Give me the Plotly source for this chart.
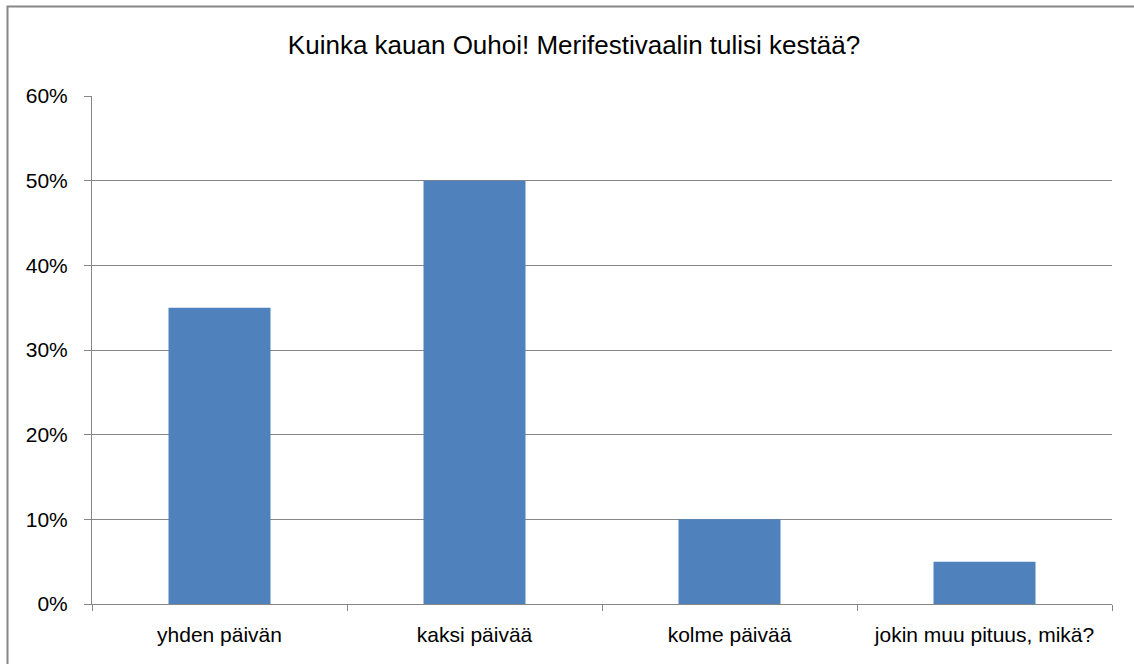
import plotly.graph_objects as go

categories = ["yhden päivän", "kaksi päivää", "kolme päivää", "jokin muu pituus, mikä?"]
values = [0.35, 0.50, 0.10, 0.05]
y_ticks = [0, 0.1, 0.2, 0.3, 0.4, 0.5, 0.6]
y_tick_labels = ["0%", "10%", "20%", "30%", "40%", "50%", "60%"]
title_text = "Kuinka kauan Ouhoi! Merifestivaalin tulisi kestää?"

FONT = "Liberation Sans, Arial, sans-serif"
GRID = "#868686"

W, H = 1134, 664
L, R, T, B = 92, 22, 96, 60
pw, ph = W - L - R, H - T - B

def px_x(px):
    return (px - L) / pw

def px_y(py):
    return (H - B - py) / ph

fig = go.Figure(go.Bar(
    x=categories, y=values,
    marker=dict(color="#4F81BD", line=dict(width=0)),
    width=0.4,
))

fig.update_layout(
    width=W, height=H,
    margin=dict(l=L, r=R, t=T, b=B, pad=0),
    paper_bgcolor="white", plot_bgcolor="white",
    showlegend=False,
    font=dict(family=FONT, color="black", size=21),
    title=dict(text=title_text, x=574 / W, xanchor="center", xref="container",
               y=1 - 45 / H, yanchor="middle", yref="container",
               font=dict(family=FONT, size=26, color="black")),
    xaxis=dict(
        showline=True, linecolor=GRID, linewidth=1,
        ticks="outside", tickson="boundaries", ticklen=6, tickcolor=GRID,
        tickfont=dict(size=21), showgrid=False, ticklabelstandoff=12,
    ),
    yaxis=dict(
        range=[0, 0.6], tickvals=y_ticks, ticktext=y_tick_labels,
        showline=True, linecolor=GRID, linewidth=1,
        ticks="outside", ticklen=7, tickcolor=GRID,
        showgrid=True, gridcolor=GRID, gridwidth=1,
        zeroline=False, tickfont=dict(size=21), ticklabelstandoff=12,
    ),
    shapes=[dict(
        type="rect", xref="paper", yref="paper",
        x0=px_x(7.5), x1=px_x(1150), y0=px_y(680), y1=px_y(6.5),
        line=dict(color="#868686", width=2), fillcolor="rgba(0,0,0,0)",
        layer="below",
    )],
)

fig.write_html(
    "out.html",
    config={"displayModeBar": False},
    post_script="document.body.style.margin='0';document.body.style.overflow='hidden';",
)
